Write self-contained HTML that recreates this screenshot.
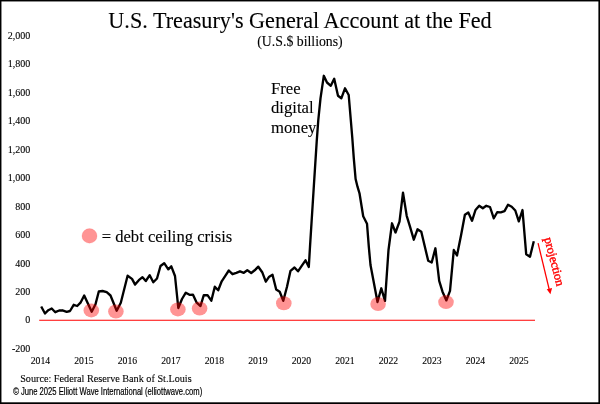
<!DOCTYPE html>
<html><head><meta charset="utf-8"><title>U.S. Treasury's General Account at the Fed</title>
<style>
html,body{margin:0;padding:0;background:#fff;}
svg{display:block;}
text{font-family:"Liberation Serif",serif;fill:#000;stroke:#000;stroke-width:0.1px;}
.ax{font-size:10px;}
.axx{font-size:9.7px;}
.title{font-size:22.18px;}
.sub{font-size:13.8px;}
.ann{font-size:16.7px;}
.leg{font-size:16.6px;}
.src{font-size:10.2px;}
.copy{font-family:"Liberation Sans",sans-serif;font-size:10.2px;stroke:#000;stroke-width:0.2px;}
.proj{font-size:12.3px;fill:#f00;stroke:#f00;stroke-width:0.4px;}
</style></head><body>
<svg width="600" height="404" viewBox="0 0 600 404">
<rect x="0" y="0" width="600" height="404" fill="#fff"/>
<rect x="0" y="0" width="600" height="1.45" fill="#000"/><rect x="0" y="0" width="1.45" height="404" fill="#000"/><rect x="598.4" y="0" width="1.6" height="404" fill="#000"/><rect x="0" y="402.3" width="600" height="1.7" fill="#000"/>
<text x="300" y="28.4" text-anchor="middle" class="title">U.S. Treasury's General Account at the Fed</text>
<text x="300" y="45.5" text-anchor="middle" class="sub">(U.S.$ billions)</text>
<text x="30.3" y="38.9" text-anchor="end" class="ax">2,000</text>
<text x="30.3" y="67.3" text-anchor="end" class="ax">1,800</text>
<text x="30.3" y="95.8" text-anchor="end" class="ax">1,600</text>
<text x="30.3" y="124.2" text-anchor="end" class="ax">1,400</text>
<text x="30.3" y="152.7" text-anchor="end" class="ax">1,200</text>
<text x="30.3" y="181.2" text-anchor="end" class="ax">1,000</text>
<text x="30.3" y="209.6" text-anchor="end" class="ax">800</text>
<text x="30.3" y="238.1" text-anchor="end" class="ax">600</text>
<text x="30.3" y="266.5" text-anchor="end" class="ax">400</text>
<text x="30.3" y="294.9" text-anchor="end" class="ax">200</text>
<text x="30.3" y="323.4" text-anchor="end" class="ax">0</text>
<text x="30.3" y="351.8" text-anchor="end" class="ax">-200</text>
<text x="40.4" y="364" text-anchor="middle" class="axx">2014</text>
<text x="83.9" y="364" text-anchor="middle" class="axx">2015</text>
<text x="127.4" y="364" text-anchor="middle" class="axx">2016</text>
<text x="170.9" y="364" text-anchor="middle" class="axx">2017</text>
<text x="214.4" y="364" text-anchor="middle" class="axx">2018</text>
<text x="257.9" y="364" text-anchor="middle" class="axx">2019</text>
<text x="301.4" y="364" text-anchor="middle" class="axx">2020</text>
<text x="344.9" y="364" text-anchor="middle" class="axx">2021</text>
<text x="388.4" y="364" text-anchor="middle" class="axx">2022</text>
<text x="431.9" y="364" text-anchor="middle" class="axx">2023</text>
<text x="475.4" y="364" text-anchor="middle" class="axx">2024</text>
<text x="518.9" y="364" text-anchor="middle" class="axx">2025</text>
<line x1="39.2" y1="320.3" x2="535" y2="320.3" stroke="#f00" stroke-width="1.1"/>
<polyline points="41.2,306.5 45,313.5 48.3,310.2 51.7,308.5 55.3,312.2 59.2,310.5 62.5,310.3 66.7,311.8 70,311 73.7,304.8 77.2,306 80.5,302.7 84.2,295.5 91.7,311.8 95.5,304.3 98.8,291.5 102.5,291 106.7,292.2 110.5,295.5 116.7,310.7 120.8,302.7 127.6,275.7 132.0,278.9 135.1,284.6 138.8,280.2 142.5,277.2 145.8,281 149.7,275.2 153.3,282.3 157,278.5 160.5,266 164.2,263.2 168.3,269.3 171.3,266.3 175,276 178.3,308 182,299 185.8,292.7 189.5,294.8 193,294.7 196.7,302.7 200.5,306 203.8,295.2 207.5,295.2 211.3,300.7 214.8,286.7 218.2,290.3 221.7,281.3 225.3,275.8 228.8,270.5 232.5,274.2 236.3,272.8 240,271.3 243.8,272.8 247.3,270.3 251.2,273 254.7,270.3 258.3,266.7 262.2,272.2 265.8,281.7 269.2,276.7 272.5,274.7 276.2,289.5 279.7,291.7 283.3,300.8 287,286.7 290.5,270.8 294.5,267.5 298,271.3 301.7,265.8 305.5,260.3 308.8,267 310,246.7 313.8,186.7 316.7,141.7 318.3,120 320.5,98.3 323.8,75.8 327,82.5 330.8,85.8 334.2,78.8 338,95.8 341.3,98.3 345,88.3 348.7,95 350.8,120 352.3,138 353.8,158.3 355.6,179 357.5,186.7 359.5,193.3 363.2,216.3 367,223.7 368.8,246.7 370.5,265 377.5,302 381.3,288.3 385,300.8 388.5,250 392,223.3 395.5,232.5 399.5,221.7 403,192.6 406.7,215.8 410,226.7 413.8,239.7 417.5,229.3 421.3,231.7 428.2,260.8 431.7,262.5 435.4,248.3 439.2,280.8 442.5,291.7 446.4,300.4 450,290.8 453.8,250 457,255.5 461.1,235 464.9,214.7 468.3,212.5 472,220.8 475.5,210 479.2,205.8 482.8,208.3 486.3,205.8 490,207 493.8,218.3 497.2,212.2 500.8,212.3 504.5,211.1 508,204.7 511.7,206.7 515.3,210.5 518.8,221.3 522.5,210 526.2,254.2 530,256.7 533.8,241.2" fill="none" stroke="#000" stroke-width="2.35" stroke-linejoin="round"/>
<ellipse cx="91.3" cy="310.4" rx="7.8" ry="7.0" fill="#f00" fill-opacity="0.42"/>
<ellipse cx="115.9" cy="311.5" rx="7.8" ry="7.0" fill="#f00" fill-opacity="0.42"/>
<ellipse cx="177.9" cy="309.4" rx="7.8" ry="7.0" fill="#f00" fill-opacity="0.42"/>
<ellipse cx="199.6" cy="308.5" rx="7.8" ry="7.0" fill="#f00" fill-opacity="0.42"/>
<ellipse cx="283.8" cy="303.3" rx="7.8" ry="7.0" fill="#f00" fill-opacity="0.42"/>
<ellipse cx="378.1" cy="304" rx="7.8" ry="7.0" fill="#f00" fill-opacity="0.42"/>
<ellipse cx="446" cy="302.1" rx="7.8" ry="7.0" fill="#f00" fill-opacity="0.42"/>
<ellipse cx="89.5" cy="235.9" rx="7.6" ry="7.3" fill="#f00" fill-opacity="0.42" stroke="#f00" stroke-opacity="0.12" stroke-width="0.8"/>
<text x="271" y="93.5" class="ann">Free</text>
<text x="271" y="113" class="ann">digital</text>
<text x="271" y="132.5" class="ann">money</text>
<text x="101.7" y="241.5" class="leg">= debt ceiling crisis</text>
<line x1="538.05" y1="243.1" x2="549.5" y2="290.6" stroke="#f00" stroke-width="1.3"/>
<polygon points="550.45,294.2 546.75,289.2 552.05,287.9" fill="#f00"/>
<text transform="translate(544.25,238.5) rotate(75.3)" class="proj">projection</text>
<text x="20.2" y="382.1" class="src">Source: Federal Reserve Bank of St.Louis</text>
<text x="13.2" y="394.6" class="copy" textLength="189" lengthAdjust="spacingAndGlyphs">© June 2025 Elliott Wave International (elliottwave.com)</text>
</svg>
</body></html>
